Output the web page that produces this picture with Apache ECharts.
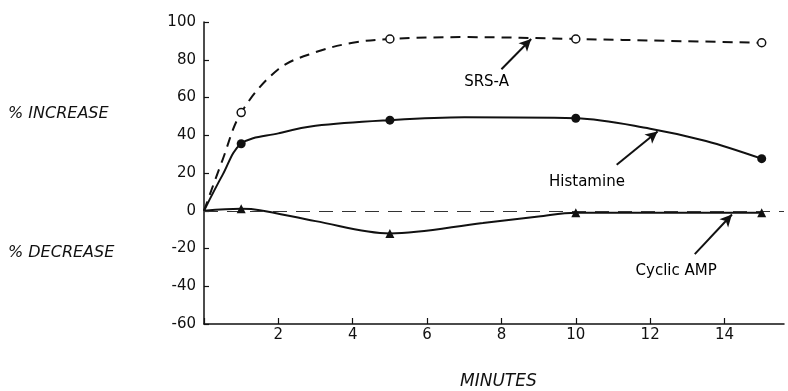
<!DOCTYPE html>
<html>
<head>
<meta charset="utf-8">
<script src="https://cdn.jsdelivr.net/npm/echarts@6/dist/echarts.min.js"></script>
<style>
  html, body { margin: 0; padding: 0; background: #fff; }
  #main { width: 788px; height: 391px; }
</style>
</head>
<body>
<div id="main"></div>
<script>
// measured points (minutes / % change)
var measuredMinutes = [1, 5, 10, 15];
var srsA = [52, 91, 91, 89];
var histamine = [35.5, 48, 49, 27.6];
var cyclicAmp = [1, -12, -1, -1];

// drawn curves
var srsCurveMinutes = [0, 0.5, 1, 2, 3, 4, 5, 7, 10, 12.5, 15];
var srsCurve = [0, 27, 52, 75, 84, 89, 91, 92, 91, 90, 89];
var histCurveMinutes = [0, 0.5, 1, 2, 3, 5, 7, 10, 12, 13.5, 15];
var histCurve = [0, 19, 35.5, 41, 45, 48, 49.5, 49, 43.5, 37, 27.6];
var campCurveMinutes = [0, 1, 1.5, 3, 5, 7.5, 9, 10, 12.5, 15];
var campCurve = [0, 1, 0.3, -5.5, -12, -6.5, -3, -1, -1, -1];

var yTicks = [-60, -40, -20, 0, 20, 40, 60, 80, 100];
var xTicks = [2, 4, 6, 8, 10, 12, 14];

function zip (xs, ys) {
  return xs.map(function (x, i) { return [x, ys[i]]; });
}

var ink = '#111';
var font = 'DejaVu Sans';

var myChart = echarts.init(document.getElementById('main'));

function arrow (from, to) {
  return {
    silent: true,
    symbol: ['none', 'arrow'],
    symbolSize: [9, 12],
    label: { show: false },
    lineStyle: { color: ink, width: 2, type: 'solid' },
    data: [[{ coord: from }, { coord: to }]]
  };
}

function note (name, at) {
  return {
    type: 'scatter',
    silent: true,
    symbolSize: 1,
    itemStyle: { color: 'rgba(0,0,0,0)', opacity: 1 },
    data: [{ value: at, name: name }],
    label: {
      show: true,
      position: 'inside',
      formatter: '{b}',
      color: '#000',
      fontFamily: font,
      fontSize: 15
    }
  };
}

var option = {
  animation: false,
  backgroundColor: '#fff',
  grid: { left: 204, right: 4, top: 22, bottom: 67 },
  xAxis: {
    type: 'value',
    min: 0,
    max: 15.6,
    interval: 2,
    axisLine: { onZero: false, lineStyle: { color: ink, width: 1.5 } },
    axisTick: { inside: true, length: 6, lineStyle: { color: ink, width: 1.2 } },
    splitLine: { show: false },
    axisLabel: {
      margin: 4,
      color: ink,
      fontFamily: font,
      fontSize: 15,
      showMaxLabel: false,
      formatter: function (v) { return xTicks.indexOf(v) >= 0 ? String(v) : ''; }
    }
  },
  yAxis: {
    type: 'value',
    min: -60,
    max: 100,
    interval: 20,
    axisLine: { show: true, onZero: false, lineStyle: { color: ink, width: 1.5 } },
    axisTick: { show: true, inside: true, length: 5, lineStyle: { color: ink, width: 1.2 } },
    splitLine: { show: false },
    axisLabel: {
      margin: 8,
      color: ink,
      fontFamily: font,
      fontSize: 15,
      formatter: function (v) { return yTicks.indexOf(v) >= 0 ? String(v) : ''; }
    }
  },
  graphic: [
    { type: 'text', left: 8, top: 106, style: { text: '% INCREASE', fill: ink, font: 'italic 16px "DejaVu Sans"' } },
    { type: 'text', left: 8, top: 245, style: { text: '% DECREASE', fill: ink, font: 'italic 16px "DejaVu Sans"' } },
    { type: 'text', left: 460, top: 373, style: { text: 'MINUTES', fill: ink, font: 'italic 17px "DejaVu Sans"' } }
  ],
  series: [
    {
      name: 'SRS-A',
      type: 'line',
      smooth: 0.35,
      showSymbol: false,
      lineStyle: { color: ink, width: 2, type: [10, 7] },
      data: zip(srsCurveMinutes, srsCurve),
      markLine: arrow([8.0, 75], [8.8, 91])
    },
    {
      name: 'Histamine',
      type: 'line',
      smooth: 0.35,
      showSymbol: false,
      lineStyle: { color: ink, width: 2 },
      data: zip(histCurveMinutes, histCurve),
      markLine: arrow([11.1, 24.4], [12.2, 42])
    },
    {
      name: 'Cyclic AMP',
      type: 'line',
      smooth: 0.35,
      showSymbol: false,
      lineStyle: { color: ink, width: 2 },
      data: zip(campCurveMinutes, campCurve),
      markLine: arrow([13.2, -23], [14.2, -2])
    },
    {
      type: 'scatter',
      symbol: 'circle',
      symbolSize: 8,
      itemStyle: { color: '#fff', borderColor: ink, borderWidth: 1.5, opacity: 1 },
      data: zip(measuredMinutes, srsA),
      z: 5,
      // zero reference line
      markLine: {
        silent: true,
        symbol: 'none',
        label: { show: false },
        lineStyle: { color: '#333', width: 1.2, type: [14, 9] },
        data: [{ yAxis: 0 }]
      }
    },
    {
      type: 'scatter',
      symbol: 'circle',
      symbolSize: 9,
      itemStyle: { color: ink, opacity: 1 },
      data: zip(measuredMinutes, histamine),
      z: 5
    },
    {
      type: 'scatter',
      symbol: 'triangle',
      symbolSize: 9,
      itemStyle: { color: ink, opacity: 1 },
      data: zip(measuredMinutes, cyclicAmp),
      z: 5
    },
    note('SRS-A', [7.6, 68.4]),
    note('Histamine', [10.3, 15.4]),
    note('Cyclic AMP', [12.7, -32])
  ]
};

myChart.setOption(option);
</script>
</body>
</html>
